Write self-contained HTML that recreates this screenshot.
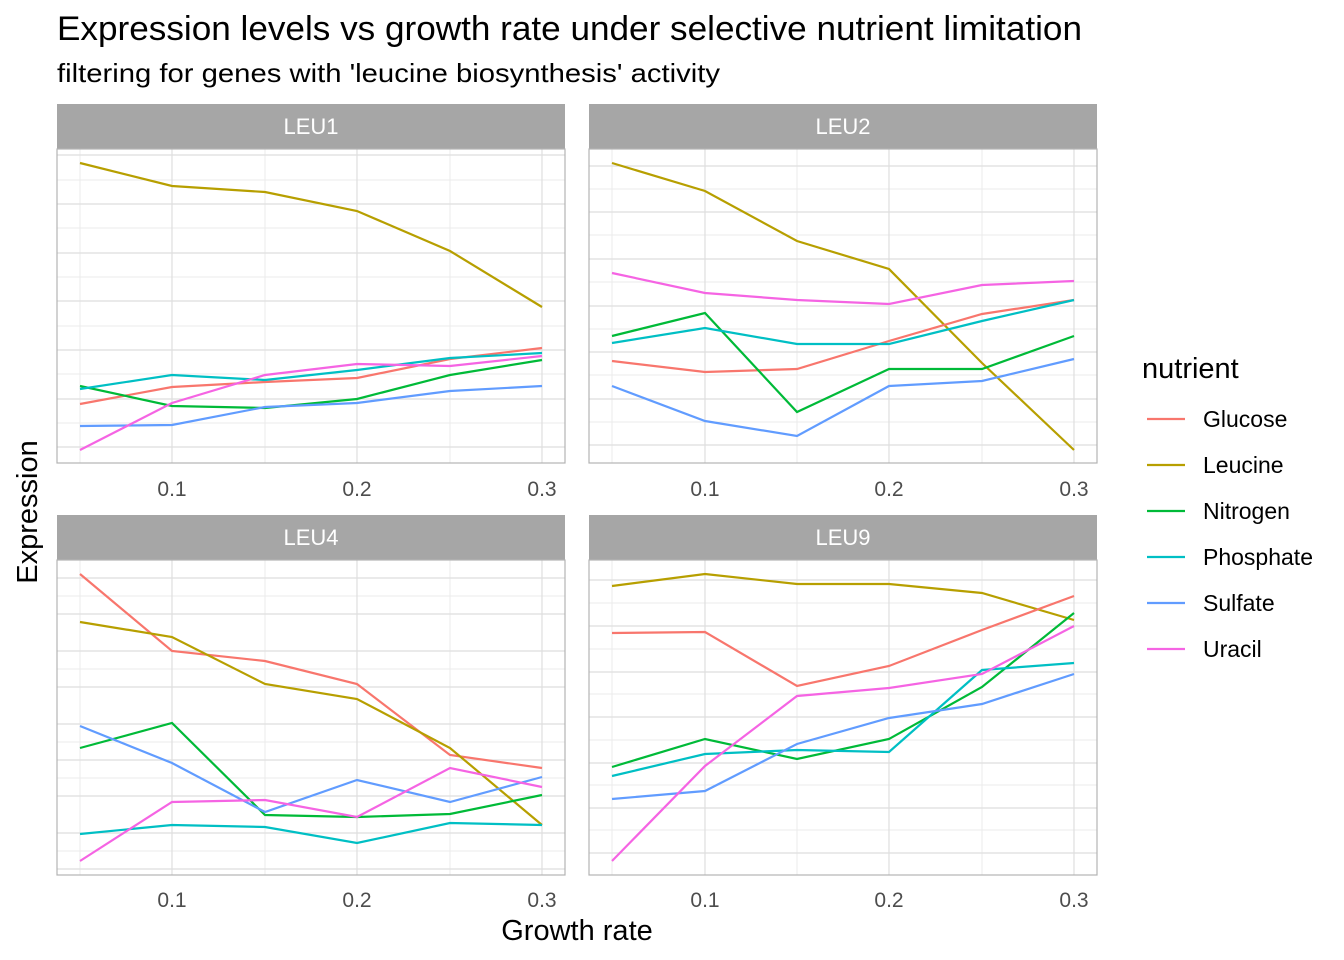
<!DOCTYPE html>
<html><head><meta charset="utf-8"><style>body{margin:0;background:#fff}svg{display:block}text{font-family:"Liberation Sans",Arial,sans-serif}</style></head>
<body>
<svg width="1344" height="960" viewBox="0 0 1344 960" xmlns="http://www.w3.org/2000/svg">
<rect width="1344" height="960" fill="#fff"/>
<text x="57" y="40" font-size="34" fill="#000" textLength="1025" lengthAdjust="spacingAndGlyphs">Expression levels vs growth rate under selective nutrient limitation</text>
<text x="57" y="82" font-size="26" fill="#000" textLength="663" lengthAdjust="spacingAndGlyphs">filtering for genes with 'leucine biosynthesis' activity</text>

<rect x="57" y="104" width="508" height="45" fill="#a6a6a6"/>
<rect x="589" y="104" width="508" height="45" fill="#a6a6a6"/>
<rect x="57" y="515" width="508" height="45" fill="#a6a6a6"/>
<rect x="589" y="515" width="508" height="45" fill="#a6a6a6"/>
<g font-size="22" fill="#fff" text-anchor="middle">
<text x="311" y="134">LEU1</text><text x="843" y="134">LEU2</text>
<text x="311" y="545">LEU4</text><text x="843" y="545">LEU9</text>
</g>

<g stroke="#ebebeb" stroke-width="1">
<path d="M80 149V463M265 149V463M450 149V463M612 149V463M797 149V463M982 149V463M80 560V875M265 560V875M450 560V875M612 560V875M797 560V875M982 560V875"/>
<path d="M57 180H565M57 228H565M57 277H565M57 326H565M57 374H565M57 423H565"/>
<path d="M589 189H1097M589 235H1097M589 282H1097M589 329H1097M589 375H1097M589 422H1097"/>
<path d="M57 596H565M57 669H565M57 742H565M57 778H565M57 851H565"/>
<path d="M589 603H1097M589 649H1097M589 694H1097M589 740H1097M589 785H1097M589 830H1097"/>
</g>
<g stroke="#dedede" stroke-width="1.2">
<path d="M172 149V463M357 149V463M542 149V463M705 149V463M889 149V463M1074 149V463M172 560V875M357 560V875M542 560V875M705 560V875M889 560V875M1074 560V875"/>
<path d="M57 155H565M57 204H565M57 253H565M57 301H565M57 350H565M57 399H565M57 447H565"/>
<path d="M589 166H1097M589 212H1097M589 259H1097M589 306H1097M589 352H1097M589 399H1097M589 445H1097"/>
<path d="M57 578H565M57 614H565M57 651H565M57 687H565M57 724H565M57 760H565M57 796H565M57 833H565M57 869H565"/>
<path d="M589 580H1097M589 626H1097M589 672H1097M589 717H1097M589 763H1097M589 808H1097M589 853H1097"/>
</g>

<g fill="none" stroke-width="2.2">
<polyline stroke="#B79F00" points="80,163 172,186 265,192 357,211 450,251 542,307"/>
<polyline stroke="#F8766D" points="80,404 172,387 265,382 357,378 450,359 542,348"/>
<polyline stroke="#00BA38" points="80,386 172,406 265,408 357,399 450,375 542,360"/>
<polyline stroke="#00BFC4" points="80,389 172,375 265,380 357,370 450,358 542,353"/>
<polyline stroke="#619CFF" points="80,426 172,425 265,407 357,403 450,391 542,386"/>
<polyline stroke="#F564E3" points="80,450 172,403 265,375 357,364 450,366 542,356"/>
<polyline stroke="#B79F00" points="612,163 705,191 797,241 889,269 982,363 1074,450"/>
<polyline stroke="#F564E3" points="612,273 705,293 797,300 889,304 982,285 1074,281"/>
<polyline stroke="#F8766D" points="612,361 705,372 797,369 889,341 982,314 1074,300"/>
<polyline stroke="#00BA38" points="612,336 705,313 797,412 889,369 982,369 1074,336"/>
<polyline stroke="#00BFC4" points="612,343 705,328 797,344 889,344 982,321 1074,300"/>
<polyline stroke="#619CFF" points="612,386 705,421 797,436 889,386 982,381 1074,359"/>
<polyline stroke="#F8766D" points="80,574 172,651 265,661 357,684 450,755 542,768"/>
<polyline stroke="#B79F00" points="80,622 172,637 265,684 357,699 450,748 542,825"/>
<polyline stroke="#00BA38" points="80,748 172,723 265,815 357,817 450,814 542,795"/>
<polyline stroke="#619CFF" points="80,726 172,763 265,812 357,780 450,802 542,777"/>
<polyline stroke="#00BFC4" points="80,834 172,825 265,827 357,843 450,823 542,825"/>
<polyline stroke="#F564E3" points="80,861 172,802 265,800 357,817 450,768 542,787"/>
<polyline stroke="#B79F00" points="612,586 705,574 797,584 889,584 982,593 1074,620"/>
<polyline stroke="#F8766D" points="612,633 705,632 797,686 889,666 982,630 1074,596"/>
<polyline stroke="#00BA38" points="612,767 705,739 797,759 889,739 982,687 1074,613"/>
<polyline stroke="#00BFC4" points="612,776 705,754 797,750 889,752 982,670 1074,663"/>
<polyline stroke="#619CFF" points="612,799 705,791 797,744 889,718 982,704 1074,674"/>
<polyline stroke="#F564E3" points="612,861 705,766 797,696 889,688 982,674 1074,626"/>
</g>

<g fill="none" stroke="#b3b3b3" stroke-width="1.2">
<rect x="57" y="149" width="508" height="314"/><rect x="589" y="149" width="508" height="314"/>
<rect x="57" y="560" width="508" height="315"/><rect x="589" y="560" width="508" height="315"/>
</g>

<g font-size="21" fill="#4d4d4d" text-anchor="middle">
<text x="172" y="496">0.1</text><text x="357" y="496">0.2</text><text x="542" y="496">0.3</text>
<text x="705" y="496">0.1</text><text x="889" y="496">0.2</text><text x="1074" y="496">0.3</text>
<text x="172" y="907">0.1</text><text x="357" y="907">0.2</text><text x="542" y="907">0.3</text>
<text x="705" y="907">0.1</text><text x="889" y="907">0.2</text><text x="1074" y="907">0.3</text>
</g>
<text x="577" y="940" font-size="29" text-anchor="middle" fill="#000">Growth rate</text>
<text transform="translate(37,512) rotate(-90)" font-size="29" text-anchor="middle" fill="#000">Expression</text>

<text x="1142" y="378" font-size="29" fill="#000">nutrient</text>
<g stroke-width="2.2">
<line x1="1147" x2="1185" y1="419" y2="419" stroke="#F8766D"/>
<line x1="1147" x2="1185" y1="465" y2="465" stroke="#B79F00"/>
<line x1="1147" x2="1185" y1="511" y2="511" stroke="#00BA38"/>
<line x1="1147" x2="1185" y1="557" y2="557" stroke="#00BFC4"/>
<line x1="1147" x2="1185" y1="603" y2="603" stroke="#619CFF"/>
<line x1="1147" x2="1185" y1="649" y2="649" stroke="#F564E3"/>
</g>
<g font-size="23" fill="#000">
<text x="1203" y="427">Glucose</text><text x="1203" y="473">Leucine</text>
<text x="1203" y="519">Nitrogen</text><text x="1203" y="565">Phosphate</text>
<text x="1203" y="611">Sulfate</text><text x="1203" y="657">Uracil</text>
</g>
</svg>
</body></html>
